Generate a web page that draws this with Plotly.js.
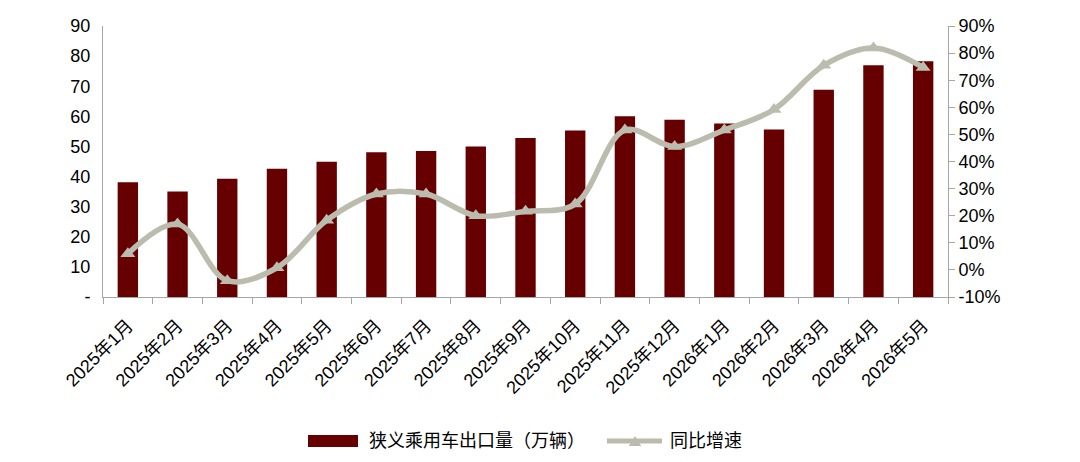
<!DOCTYPE html>
<html>
<head>
<meta charset="utf-8">
<script src="https://cdn.plot.ly/plotly-3.0.1.min.js"></script>
<style>
  html, body { margin: 0; padding: 0; background: #fff; }
  #chart { width: 1080px; height: 462px; }
</style>
</head>
<body>
<div id="chart"></div>
<script>
// months on the x axis
const months = ['2025年1月', '2025年2月', '2025年3月', '2025年4月', '2025年5月', '2025年6月',
  '2025年7月', '2025年8月', '2025年9月', '2025年10月', '2025年11月', '2025年12月',
  '2026年1月', '2026年2月', '2026年3月', '2026年4月', '2026年5月'];

// 狭义乘用车出口量 (万辆)
const exportVolume = [38.1, 35.0, 39.3, 42.6, 44.9, 48.1, 48.5, 50.0, 52.8, 55.3,
  60.0, 58.9, 57.6, 55.6, 68.8, 77.0, 78.3];

// 同比增速 (%)
const yoyGrowth = [6.0, 16.9, -4.0, 0.8, 18.3, 28.0, 28.0, 20.0, 21.6, 24.3,
  51.6, 45.5, 51.6, 59.2, 75.5, 81.9, 74.7];

const leftTicks = [0, 10, 20, 30, 40, 50, 60, 70, 80, 90];
const leftTickText = ['-', '10', '20', '30', '40', '50', '60', '70', '80', '90'];
const rightTicks = [-10, 0, 10, 20, 30, 40, 50, 60, 70, 80, 90];
const rightTickText = rightTicks.map(v => v + '%');

const barName = '狭义乘用车出口量（万辆）';
const lineName = '同比增速';

const fontFamily = 'Liberation Sans, Arial, Noto Sans CJK SC, sans-serif';
const axisGray = '#a6a6a6';
const barColor = '#660000';
const lineColor = '#bcbcae';

const traceBars = {
  type: 'bar',
  name: barName,
  x: months,
  y: exportVolume,
  width: 0.41,
  marker: { color: barColor },
  yaxis: 'y'
};

const traceLine = {
  type: 'scatter',
  mode: 'lines+markers',
  name: lineName,
  x: months,
  y: yoyGrowth,
  line: { color: lineColor, width: 5.5, shape: 'spline', smoothing: 1 },
  marker: { symbol: 'triangle-up', size: 13, color: lineColor },
  yaxis: 'y2'
};

// hand-made legend below the plot (paper coordinates)
const legendY = -0.531;
const legendShapes = [
  { type: 'rect', xref: 'paper', yref: 'paper', x0: 0.2426, x1: 0.3018, y0: -0.5535, y1: -0.5092,
    fillcolor: barColor, line: { width: 0 } },
  { type: 'line', xref: 'paper', yref: 'paper', x0: 0.5964, x1: 0.6615, y0: legendY, y1: legendY,
    line: { color: lineColor, width: 5 } },
  { type: 'path', xref: 'paper', yref: 'paper',
    path: 'M 0.6222 -0.5500 L 0.6370 -0.5500 L 0.6296 -0.5130 Z',
    fillcolor: lineColor, line: { width: 0 } }
];
const legendLabels = [
  { xref: 'paper', yref: 'paper', x: 0.3124, y: legendY, xanchor: 'left', yanchor: 'middle',
    text: barName, showarrow: false, font: { size: 18, family: fontFamily } },
  { xref: 'paper', yref: 'paper', x: 0.6686, y: legendY, xanchor: 'left', yanchor: 'middle',
    text: lineName, showarrow: false, font: { size: 18, family: fontFamily } }
];

const layout = {
  width: 1080,
  height: 462,
  margin: { l: 103, r: 132, t: 26, b: 165 },
  paper_bgcolor: 'white',
  plot_bgcolor: 'white',
  font: { family: fontFamily, size: 17, color: '#000' },
  showlegend: false,
  shapes: legendShapes,
  annotations: legendLabels,
  xaxis: {
    type: 'category',
    automargin: false,
    tickangle: -45,
    tickfont: { size: 18, family: fontFamily },
    ticklabelstandoff: 10,
    showline: true,
    linecolor: axisGray,
    linewidth: 1,
    ticks: 'outside',
    tickson: 'boundaries',
    ticklen: 6,
    tickcolor: axisGray,
    showgrid: false,
    zeroline: false,
    range: [-0.5, 16.5]
  },
  yaxis: {
    automargin: false,
    range: [0, 90],
    tickvals: leftTicks,
    ticktext: leftTickText,
    showline: true,
    linecolor: axisGray,
    linewidth: 1,
    ticks: '',
    showgrid: false,
    zeroline: false,
    tickfont: { size: 18 },
    ticklabelstandoff: 8
  },
  yaxis2: {
    automargin: false,
    overlaying: 'y',
    side: 'right',
    range: [-10, 90],
    tickvals: rightTicks,
    ticktext: rightTickText,
    showline: true,
    linecolor: axisGray,
    linewidth: 1,
    ticks: 'outside',
    ticklen: 6,
    tickcolor: axisGray,
    showgrid: false,
    zeroline: false,
    tickfont: { size: 18 }
  }
};

Plotly.newPlot('chart', [traceBars, traceLine], layout, { displayModeBar: false, staticPlot: true });
</script>
</body>
</html>
